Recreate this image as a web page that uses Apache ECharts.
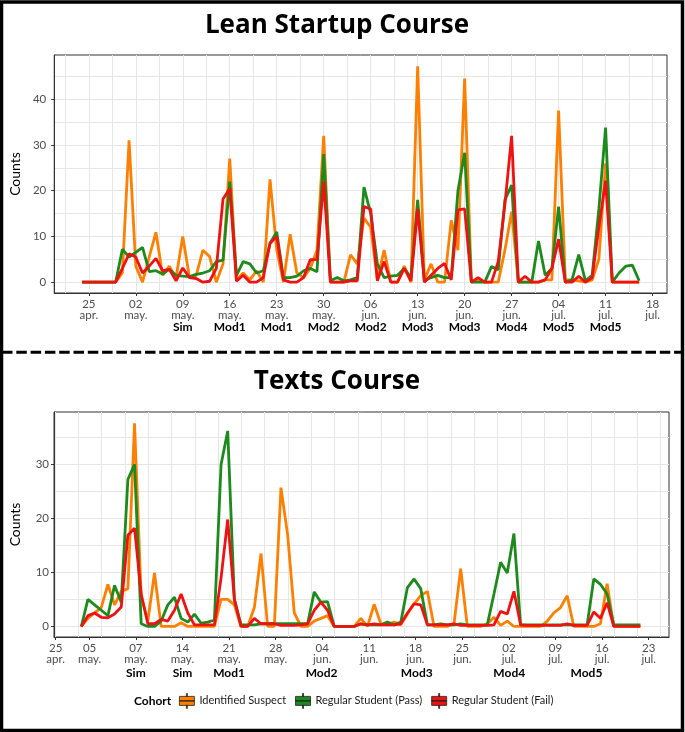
<!DOCTYPE html>
<html>
<head>
<meta charset="utf-8">
<title>Lean Startup Course / Texts Course</title>
<script src="https://cdn.jsdelivr.net/npm/echarts@6/dist/echarts.min.js"></script>
<style>
  html, body { margin: 0; padding: 0; background: #fff; }
  #chart { width: 685px; height: 732px; }
</style>
</head>
<body>
<div id="chart"></div>
<script>
const cohorts = ['Identified Suspect', 'Regular Student (Pass)', 'Regular Student (Fail)']
const colors = ['#ff7f00', '#1d8a1d', '#ee1212']

// Lean Startup course: one value per day, first day is 24 apr (day 0 = 25 apr)
const leanStart = -1
const leanSuspect = [
  0, 0, 0, 0, 0, 0,
  2, 31, 3.5, 0, 5.5, 10.9, 1.5, 3.5, 1, 10,
  1, 1.5, 7, 5.6, 0, 4, 27, 0.5, 2, 0.5,
  2.5, 0, 22.5, 7, 0, 10.5, 2, 1, 3, 7,
  32, 0, 0, 0, 6, 4, 14, 12, 0.5, 7,
  0, 0, 3.5, 0, 47.2, 0.5, 4, 0, 0, 13.5,
  7, 44.5, 0, 0.5, 0, 0, 0, 7, 15.4, 0,
  0, 0, 0, 0.5, 0.5, 37.5, 0.5, 0.5, 0.3, 0,
  0.5, 5, 26, 0, 0, 0, 0, 0,
]
const leanPass = [
  0, 0, 0, 0, 0, 0,
  7.2, 5.5, 6.5, 7.6, 2.3, 2.5, 1.8, 2.8, 1.5, 1.3,
  1.2, 1.7, 2, 2.5, 4.5, 4.8, 22, 1.5, 4.5, 4,
  2, 2.5, 8.5, 11, 1, 1, 1.3, 2.5, 3, 2.3,
  28, 0.3, 1, 0.3, 0.5, 1, 20.8, 15, 4, 1,
  1.3, 1.5, 3, 1, 18, 0.3, 1, 1.5, 1, 1,
  20, 28.3, 0, 0, 0, 3.4, 2.7, 18, 21.2, 0,
  0, 0, 9, 1.5, 3, 16.5, 0, 0.5, 6, 0.3,
  1.5, 16, 33.8, 0, 2, 3.5, 3.7, 0.3,
]
const leanFail = [
  0, 0, 0, 0, 0, 0,
  3, 6.2, 5.5, 2, 3.5, 5.2, 2.5, 2.8, 0.3, 3.1,
  1, 0.8, 0, 0.2, 3, 18.2, 20.5, 0.2, 1.5, 0,
  0, 1, 8.5, 10, 0.5, 0, 0, 1, 4.9, 5,
  22, 0, 0, 0, 0.3, 0.3, 16.5, 16, 0.3, 4.5,
  0, 0, 3, 0.3, 16, 0, 1.5, 3, 4.1, 0.5,
  15.8, 16, 0, 1, 0, 0, 4.5, 17, 32, 0,
  1.3, 0, 0, 0.5, 3, 9.4, 0, 0, 1.3, 0,
  1, 12, 22.2, 0, 0, 0, 0, 0,
]
const leanTickDays = [0, 7, 14, 21, 28, 35, 42, 49, 56, 63, 70, 77, 84]
const leanGridDays = [-3.5, 3.5, 10.5, 17.5, 24.5, 31.5, 38.5, 45.5, 52.5, 59.5, 66.5, 73.5, 80.5]
const leanTickLabels = ['25\napr.', '02\nmay.', '09\nmay.', '16\nmay.', '23\nmay.', '30\nmay.', '06\njun.',
  '13\njun.', '20\njun.', '27\njun.', '04\njul.', '11\njul.', '18\njul.']
const leanModules = ['', '', 'Sim', 'Mod1', 'Mod1', 'Mod2', 'Mod2', 'Mod3', 'Mod3', 'Mod4', 'Mod5', 'Mod5', '']

// Texts course: one value per day, day 0 = first recorded day
const textsStart = 0
const textsSuspect = [
  0, 1.5, 2.5, 3.5, 7.8, 4, 6.5, 7, 37.6, 5.5,
  1, 9.9, 0, 0, 0, 0.7, 0, 0, 0, 0,
  0, 5, 5, 4, 0, 0, 3.5, 13.5, 0, 0,
  25.7, 17, 2.5, 0, 0, 1, 1.5, 2, 0, 0,
  0, 0, 1.5, 0, 4.1, 0.5, 0.3, 0.8, 0.3, 2.3,
  4.2, 5.7, 6.5, 0, 0, 0, 0.5, 10.7, 0, 0,
  0, 0.5, 1.7, 0.2, 1, 0, 0, 0, 0, 0,
  1, 2.5, 3.5, 5.7, 0, 0, 0, 0, 0.5, 7.9,
  0, 0, 0, 0, 0,
]
const textsPass = [
  0, 5, 4, 3, 2, 7.6, 4.5, 27.2, 30, 0.5,
  0, 0, 1, 4, 5.4, 1.5, 0.8, 2.3, 0.6, 0.8,
  1.2, 30, 36.2, 5, 0.3, 0.3, 0.3, 0.5, 0.5, 0.5,
  0.5, 0.5, 0.5, 0.5, 0.5, 6.4, 4.5, 4.6, 0, 0,
  0, 0, 0.5, 0.3, 0.3, 0.3, 0.8, 0.3, 0.8, 7.2,
  8.8, 7, 0.3, 0.3, 0.5, 0.3, 0.3, 0.5, 0.3, 0.3,
  0.3, 0.3, 6, 11.9, 9.9, 17.2, 0.3, 0.3, 0.3, 0.3,
  0.3, 0.3, 0.3, 0.3, 0.3, 0.3, 0.3, 8.8, 7.8, 6,
  0.3, 0.3, 0.3, 0.3, 0.3,
]
const textsFail = [
  0, 2, 2.5, 1.7, 1.6, 2.3, 3.6, 16.9, 18.2, 6,
  0.5, 0.5, 1.3, 1, 3, 6, 2.5, 0.3, 0.3, 0.3,
  0.3, 9, 19.8, 5, 0, 0, 1.5, 0.5, 0.5, 0.5,
  0.2, 0.2, 0.2, 0.3, 0.5, 3, 4.5, 3, 0, 0,
  0, 0, 0.5, 0.3, 0.5, 0.3, 0.3, 0.3, 0.5, 2.5,
  4.2, 4, 0.3, 0.3, 0.3, 0.3, 0.5, 0.2, 0.2, 0.2,
  0.2, 0.2, 0.3, 2.8, 2.3, 6.5, 0.3, 0.2, 0.2, 0.2,
  0.2, 0.2, 0.2, 0.5, 0.2, 0.2, 0.2, 2.7, 1.5, 4.4,
  0, 0, 0, 0, 0,
]
const textsTickDays = [-3.85, 1.25, 8.2, 15.2, 22.2, 29.2, 36.2, 43.25, 50.2, 57.25, 64.25, 71.25, 78.25, 85.25]
const textsTickLabels = ['25\napr.', '05\nmay.', '07\nmay.', '14\nmay.', '21\nmay.', '28\nmay.', '04\njun.',
  '11\njun.', '18\njun.', '25\njun.', '02\njul.', '09\njul.', '16\njul.', '23\njul.']
const textsGridDays = Array.from({ length: 27 }, (_, k) => -3.95 + 3.5 * k)
const textsModuleDays = [8.2, 15.2, 22.2, 36.1, 50.4, 64.3, 75.9]
const textsModules = ['Sim', 'Sim', 'Mod1', 'Mod2', 'Mod3', 'Mod4', 'Mod5']

const leanCounts = [0, 10, 20, 30, 40]
const leanMinorCounts = [5, 15, 25, 35, 45]
const textsCounts = [0, 10, 20, 30]
const textsMinorCounts = [5, 15, 25, 35]

const FONT = 'Lato'
const INK = '#333'
const GRID = '#e6e6e6'

function pick(positions, labels, v) {
  let best = 0
  positions.forEach((p, i) => {
    if (Math.abs(p - v) < Math.abs(positions[best] - v)) best = i
  })
  return labels[best]
}

function xAxes(grid, min, max, ticks, tickLabels, gridDays, modDays, modLabels, majorLines, modMargin) {
  const base = { gridIndex: grid, type: 'value', min, max, position: 'bottom' }
  return [
    {
      ...base,
      axisLine: { onZero: false, lineStyle: { color: INK, width: 1 } },
      axisTick: { customValues: ticks, length: 3, lineStyle: { color: INK } },
      axisLabel: {
        customValues: ticks,
        formatter: (v) => pick(ticks, tickLabels, v),
        margin: 6.5, fontFamily: FONT, fontSize: 11.5, lineHeight: 10.5, color: '#4d4d4d',
      },
      splitLine: { show: majorLines, lineStyle: { color: GRID, width: 1 } },
    },
    {
      ...base,
      axisLine: { show: false, onZero: false },
      axisTick: { show: false, customValues: gridDays },
      axisLabel: { show: false },
      splitLine: { show: true, lineStyle: { color: GRID, width: 1 } },
    },
    {
      ...base,
      axisLine: { show: false, onZero: false },
      axisTick: { show: false },
      axisLabel: {
        customValues: modDays,
        formatter: (v) => pick(modDays, modLabels, v),
        margin: modMargin, fontFamily: FONT, fontSize: 12, fontWeight: 'bold', color: '#000',
      },
      splitLine: { show: false },
    },
  ]
}

function yAxes(grid, min, max, ticks, minor, labelMargin, nameGap) {
  const base = { gridIndex: grid, type: 'value', min, max, position: 'left' }
  return [
    {
      ...base,
      name: 'Counts',
      nameLocation: 'middle',
      nameGap,
      nameTextStyle: { fontFamily: FONT, fontSize: 14, color: '#000' },
      axisLine: { show: true, onZero: false, lineStyle: { color: INK, width: 1 } },
      axisTick: { show: true, customValues: ticks, length: 3, lineStyle: { color: INK } },
      axisLabel: { customValues: ticks, margin: labelMargin, fontFamily: FONT, fontSize: 11.5, color: '#4d4d4d' },
      splitLine: { show: true, lineStyle: { color: GRID, width: 1 } },
    },
    {
      ...base,
      axisLine: { show: false, onZero: false },
      axisTick: { show: false, customValues: minor },
      axisLabel: { show: false },
      splitLine: { show: true, lineStyle: { color: GRID, width: 1 } },
    },
  ]
}

function lines(values, start, xi, yi) {
  return values.map((vals, k) => ({
    name: cohorts[k],
    type: 'line',
    xAxisIndex: xi,
    yAxisIndex: yi,
    data: vals.map((v, i) => [start + i, v]),
    symbol: 'none',
    showSymbol: false,
    lineStyle: { width: 2.8, color: colors[k] },
    itemStyle: { color: colors[k] },
    z: 3 + k,
  }))
}

const keyIcon = 'path://M7,0h1v3h-1z M0,3h15v9h-15z M7,12h1v3h-1z M0,7.3h15v0.4h-15z'

const chart = echarts.init(document.getElementById('chart'), null, { renderer: 'canvas' })
chart.setOption({
  animation: false,
  backgroundColor: '#fff',
  color: colors,
  textStyle: { fontFamily: FONT },
  grid: [
    { left: 40, top: 55, width: 627, height: 238, show: true, borderColor: INK, borderWidth: 1, backgroundColor: 'transparent' },
    { left: 50, top: 412, width: 619, height: 225, show: true, borderColor: INK, borderWidth: 1, backgroundColor: 'transparent' },
  ],
  xAxis: [
    ...xAxes(0, -5.15, 86.15, leanTickDays, leanTickLabels, leanGridDays, leanTickDays, leanModules, true, 28),
    ...xAxes(1, -4.1, 88.3, textsTickDays, textsTickLabels, textsGridDays, textsModuleDays, textsModules, false, 30),
  ],
  yAxis: [
    ...yAxes(0, -2.37, 49.67, leanCounts, leanMinorCounts, 8, 22),
    ...yAxes(1, -1.95, 39.7, textsCounts, textsMinorCounts, 5, 32),
  ],
  legend: {
    data: cohorts,
    left: 179,
    top: 693,
    padding: 0,
    itemWidth: 15,
    itemHeight: 15,
    itemGap: 9,
    icon: keyIcon,
    selectedMode: false,
    itemStyle: { borderColor: '#222', borderWidth: 0.8 },
    textStyle: { fontFamily: FONT, fontSize: 11, color: '#1a1a1a' },
  },
  graphic: {
    elements: [
      { type: 'text', x: 337, y: 26, style: { text: 'Lean Startup Course', fontFamily: 'Open Sans', fontWeight: 'bold', fontSize: 26, fill: '#000', textAlign: 'center', textVerticalAlign: 'middle' } },
      { type: 'text', x: 337, y: 382, style: { text: 'Texts Course', fontFamily: 'Open Sans', fontWeight: 'bold', fontSize: 26, fill: '#000', textAlign: 'center', textVerticalAlign: 'middle' } },
      { type: 'text', x: 134, y: 701, style: { text: 'Cohort', fontFamily: FONT, fontWeight: 'bold', fontSize: 12, fill: '#000', textVerticalAlign: 'middle' } },
      { type: 'line', silent: true, shape: { x1: 2, y1: 352.3, x2: 683, y2: 352.3 }, style: { stroke: '#000', lineWidth: 3, lineDash: [10.5, 3.8] } },
      { type: 'rect', silent: true, z: 100, shape: { x: 1.5, y: 2, width: 681, height: 728.5 }, style: { fill: 'none', stroke: '#000', lineWidth: 3.5 } },
    ],
  },
  series: [
    ...lines([leanSuspect, leanPass, leanFail], leanStart, 0, 0),
    ...lines([textsSuspect, textsPass, textsFail], textsStart, 3, 2),
  ],
})
</script>
</body>
</html>
